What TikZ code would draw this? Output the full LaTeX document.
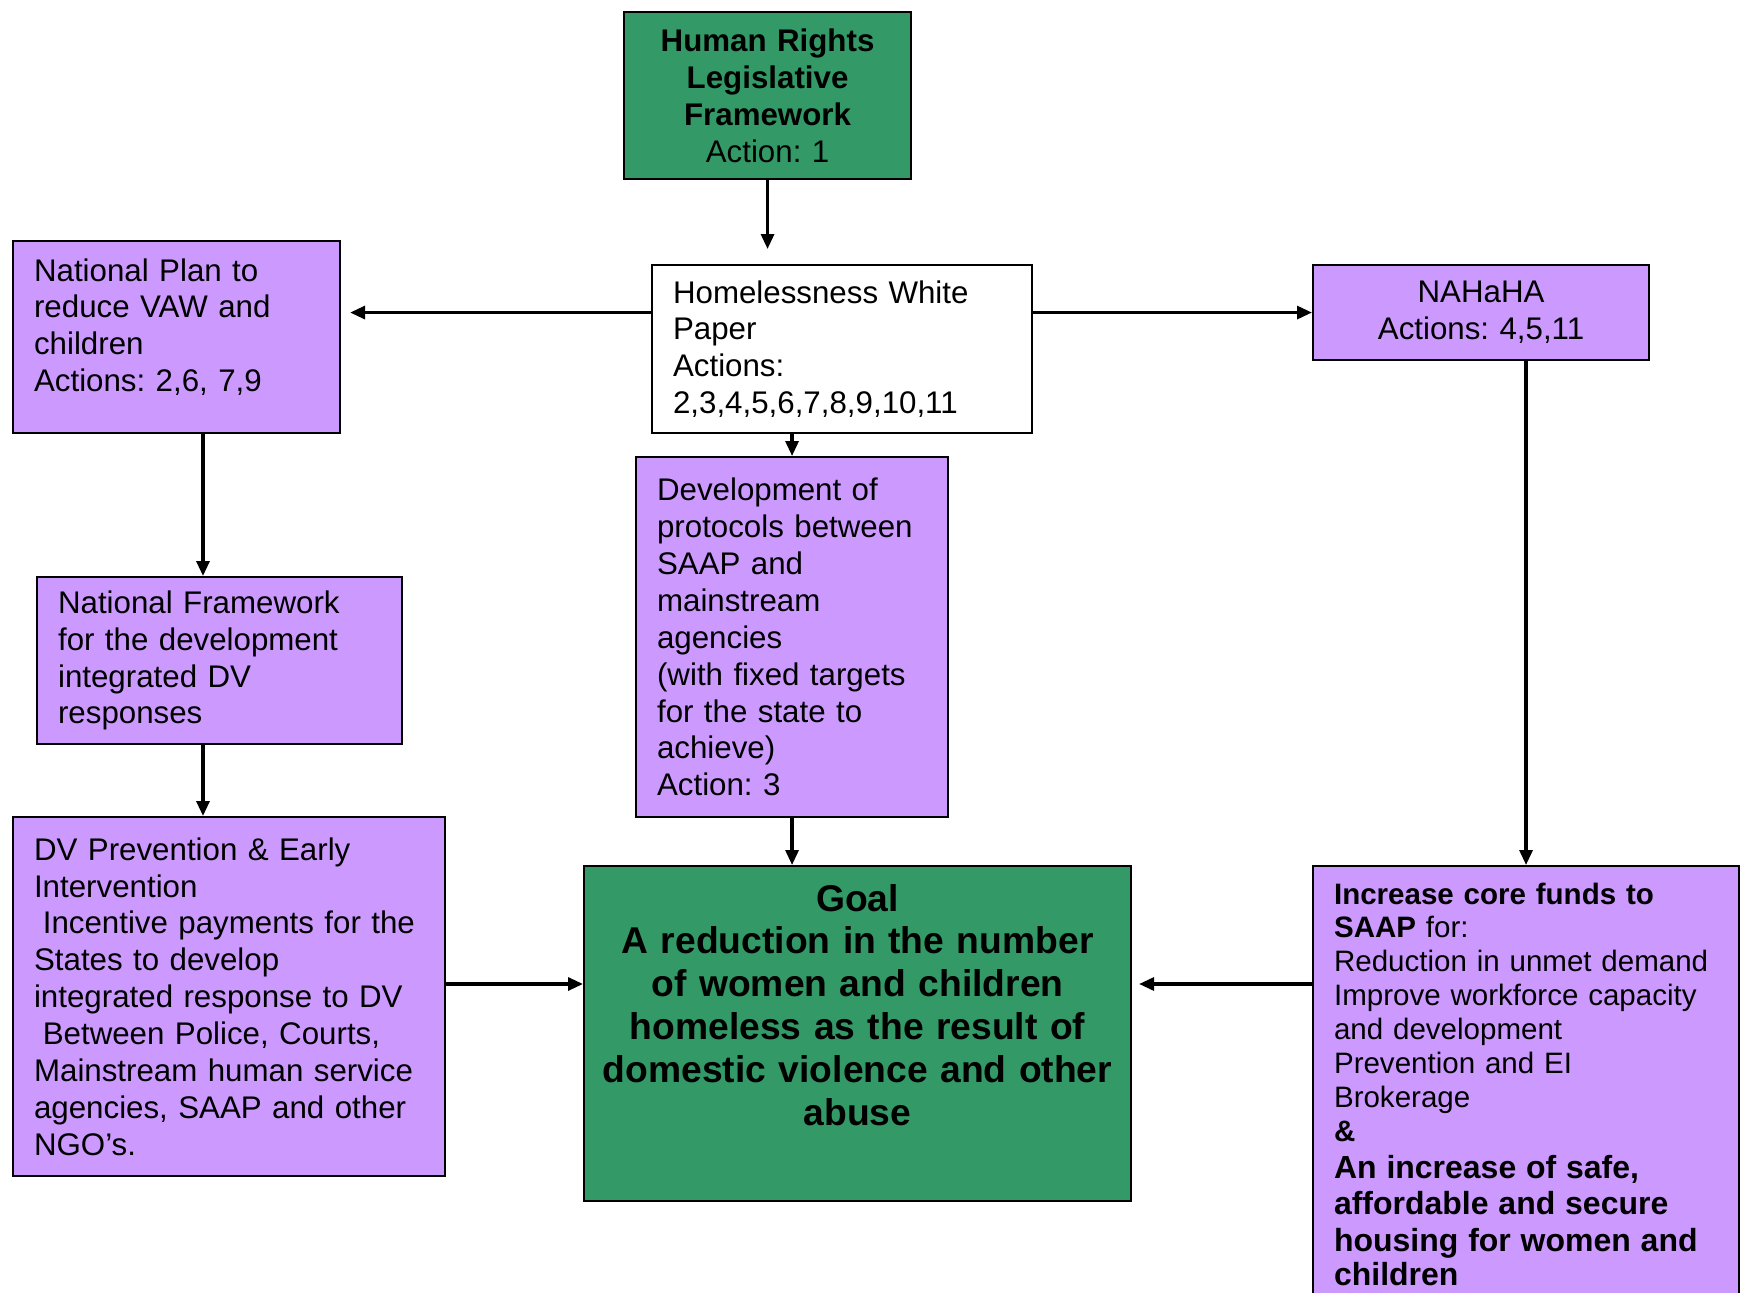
\documentclass[tikz,border=0pt]{standalone}
\usepackage{fontspec}
\setmainfont{Liberation Sans}
\frenchspacing
\usetikzlibrary{arrows.meta}
\definecolor{goalgreen}{RGB}{51,153,102}
\definecolor{lilac}{RGB}{204,153,255}
\tikzset{
	box/.style = {draw, line width = 0.6pt, anchor = north west, inner xsep = 0.21cm, align = left, font = \fontsize{8.9}{10.5}\selectfont},
	arr/.style = {-{Triangle[length=1.5mm,width=1.3mm]}, line width = 0.9pt}
}
\begin{document}
\begin{tikzpicture}
		\useasboundingbox (0,0) rectangle (17.45,-12.93);
		\node [box, fill = goalgreen, align = center, font = \fontsize{8.9}{10.5}\selectfont\bfseries, text width = 2.45cm, minimum width = 2.87cm, minimum height = 1.67cm](hr) at (6.23,-0.11) {Human Rights\\ Legislative\\ Framework\\ \mdseries Action: 1};
		\node [box, fill = white, text width = 3.38cm, minimum width = 3.80cm, minimum height = 1.68cm](hwp) at (6.51,-2.64) {Homelessness White\\ Paper\\ Actions:\\ 2,3,4,5,6,7,8,9,10,11};
		\node [box, fill = lilac, text width = 2.85cm, inner ysep = 0pt, text height = 0.40cm, text depth = 1.52cm](natplan) at (0.12,-2.40) {National Plan to\\ reduce VAW and\\ children\\ Actions: 2,6, 7,9};
		\node [box, fill = lilac, align = center, text width = 2.94cm, minimum width = 3.36cm, minimum height = 0.95cm](nahaha) at (13.12,-2.64) {NAHaHA\\ Actions: 4,5,11};
		\node [box, fill = lilac, text width = 3.23cm, minimum width = 3.65cm, minimum height = 1.67cm](natframe) at (0.36,-5.76) {National Framework\\ for the development\\ integrated DV\\ responses};
		\node [box, fill = lilac, text width = 2.70cm, minimum width = 3.12cm, minimum height = 3.60cm](protocols) at (6.35,-4.56) {Development of\\ protocols between\\ SAAP and\\ mainstream\\ agencies\\ (with fixed targets\\ for the state to\\ achieve)\\ Action: 3};
		\node [box, fill = lilac, text width = 3.90cm, minimum width = 4.32cm, minimum height = 3.59cm](dvprev) at (0.12,-8.16) {DV Prevention \& Early\\ Intervention\\ \hspace*{0.28em}Incentive payments for the\\ States to develop\\ integrated response to DV\\ \hspace*{0.28em}Between Police, Courts,\\ Mainstream human service\\ agencies, SAAP and other\\ NGO's.};
		\node [box, fill = goalgreen, align = center, font = \fontsize{10.6}{12.2}\selectfont\bfseries, text width = 5.31cm, inner xsep = 0.08cm, inner ysep = 0pt, text height = 0.45cm, text depth = 2.90cm](goal) at (5.83,-8.65) {Goal\\ A reduction in the number\\ of women and children\\ homeless as the result of\\ domestic violence and other\\ abuse};
		\node [box, fill = lilac, font = \fontsize{8.4}{9.65}\selectfont, text width = 3.84cm, inner ysep = 0pt, text height = 0.38cm, text depth = 4.60cm](saapfunds) at (13.12,-8.65) {{\bfseries Increase core funds to\\ SAAP} for:\\ Reduction in unmet demand\\ Improve workforce capacity\\ and development\\ Prevention and EI\\ Brokerage\\ \textbf{\&}\par\fontsize{9.1}{10.4}\selectfont\bfseries An increase of safe,\\ affordable and secure\\ housing for women and\\ children};
		\coordinate (lx) at (2.03,0);
		\coordinate (hy) at (0,-9.84);
		\draw [arr, shorten >= 1.5mm] (hr.south) -- (hr.south |- hwp.north);
		\draw [arr, shorten >= 0.9mm] (hwp.west |- nahaha) -- (natplan.east |- nahaha);
		\draw [arr] (hwp.east |- nahaha) -- (nahaha.west);
		\draw [arr] (hwp.south -| protocols) -- (protocols.north);
		\draw [arr] (natplan.south -| lx) -- (natframe.north -| lx);
		\draw [arr] (natframe.south -| lx) -- (dvprev.north -| lx);
		\draw [arr] (protocols.south) -- (goal.north -| protocols);
		\draw [arr] (dvprev.east |- hy) -- (goal.west |- hy);
		\draw [arr, shorten >= 0.7mm] (saapfunds.west |- hy) -- (goal.east |- hy);
		\draw [arr] (nahaha.south -| saapfunds) -- (saapfunds.north);
\end{tikzpicture}
\end{document}
